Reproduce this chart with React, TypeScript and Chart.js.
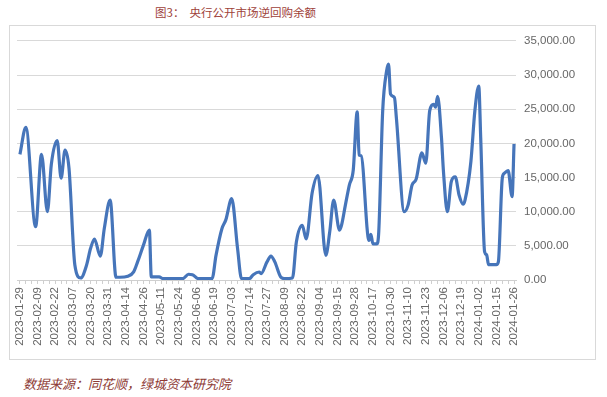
import React, { useEffect, useRef } from "react";
import { Chart, registerables } from "chart.js";

Chart.register(...registerables);

// Tick labels: one every 9 trading days
const tickDates = [
  "2023-01-29", "2023-02-09", "2023-02-22", "2023-03-07", "2023-03-20", "2023-03-31",
  "2023-04-14", "2023-04-26", "2023-05-11", "2023-05-24", "2023-06-06", "2023-06-19",
  "2023-07-03", "2023-07-14", "2023-07-27", "2023-08-09", "2023-08-22", "2023-09-04",
  "2023-09-15", "2023-09-28", "2023-10-17", "2023-10-30", "2023-11-10", "2023-11-23",
  "2023-12-06", "2023-12-19", "2024-01-02", "2024-01-15", "2024-01-26",
];

// Trading-day index (0 = 2023-01-29) of each read-off point
const dayIndex = [
  0, 3, 8, 11, 14, 16, 19, 21, 23, 25, 28, 31, 34, 36, 38, 41, 43, 46, 49, 51,
  55, 58, 60, 63, 66, 67, 71, 73, 83, 86, 88, 91, 98, 100, 103, 105, 108, 111, 113, 117,
  119, 122, 123, 126, 128, 130, 133, 135, 139, 141, 144, 146, 149, 152, 156, 158, 160, 163, 164, 166,
  168, 170, 172, 173, 174, 178, 179, 180, 182, 183, 185, 187, 188, 189, 191, 192, 196, 198, 200, 202,
  205, 207, 209, 211, 212, 213, 215, 216, 218, 220, 222, 224, 226, 227, 230, 232, 234, 235, 237, 238,
  239, 243, 244, 246, 247, 249, 251, 252,
];

// Reverse repo outstanding balance (亿元)
const balance = [
  18400, 22350, 7800, 18400, 10000, 16900, 20400, 14900, 19000, 16400, 2200, 300, 2200, 4600, 6000, 3500, 7500, 11700, 400, 400,
  550, 1200, 2650, 5100, 7300, 450, 450, 200, 200, 840, 780, 200, 200, 3600, 7500, 8800, 11900, 4600, 200, 200,
  780, 1170, 930, 2650, 3500, 2650, 440, 200, 300, 5600, 8000, 6000, 12700, 15300, 3600, 7050, 11700, 7300, 8000, 11000,
  13900, 16100, 24600, 18300, 18200, 5800, 6700, 5300, 5300, 7050, 24700, 30600, 31600, 27200, 26700, 23700, 10000, 11000, 13900, 14700,
  18600, 17100, 24800, 25700, 25300, 26900, 20800, 15900, 10000, 14400, 15100, 12400, 11100, 11700, 17350, 24700, 28400, 20800, 4100, 3700,
  2250, 2250, 2650, 14900, 15600, 16000, 12200, 19900,
];

const yTicks = [0, 5000, 10000, 15000, 20000, 25000, 30000, 35000];

export default function App() {
  const ref = useRef<HTMLCanvasElement | null>(null);

  useEffect(() => {
    if (!ref.current) return;
    const points = dayIndex.map((d, i) => ({ x: d, y: balance[i] }));
    const chart = new Chart(ref.current, {
      type: "line",
      data: {
        datasets: [
          {
            data: points,
            borderColor: "#4675BA",
            borderWidth: 3.2,
            pointRadius: 0,
            cubicInterpolationMode: "monotone",
            fill: false,
          },
        ],
      },
      options: {
        animation: false,
        responsive: false,
        maintainAspectRatio: false,
        layout: { padding: { left: 7, top: 13, right: 0, bottom: 0 } },
        plugins: {
          legend: { display: false },
          tooltip: { enabled: false },
          title: { display: false },
        },
        scales: {
          x: {
            type: "linear",
            min: -1.5,
            max: 253,
            afterBuildTicks: (s: any) => {
              const t: any[] = [];
              for (let v = 0; v <= 252; v += 3) t.push({ value: v });
              s.ticks = t;
            },
            afterFit: (s: any) => {
              s.height = 78;
              s.paddingLeft = 0;
              s.paddingRight = 0;
            },
            ticks: {
              autoSkip: false,
              minRotation: 90,
              maxRotation: 90,
              padding: 3,
              color: "#666666",
              font: { family: "'Liberation Sans', Arial, sans-serif", size: 11.5 },
              callback: (v: any) => (Number(v) % 9 === 0 ? tickDates[Number(v) / 9] : ""),
            },
            grid: { drawOnChartArea: false, drawTicks: true, tickLength: 4, color: "#cfcfcf" },
            border: { color: "#cfcfcf" },
          },
          y: {
            position: "right",
            min: 0,
            max: 35000,
            afterBuildTicks: (s: any) => {
              s.ticks = yTicks.map((v) => ({ value: v }));
            },
            afterFit: (s: any) => {
              s.width = 78;
            },
            ticks: {
              padding: 8,
              color: "#666666",
              font: { family: "'Liberation Sans', Arial, sans-serif", size: 11.5 },
              callback: (v: any) =>
                Number(v).toLocaleString("en-US", { minimumFractionDigits: 2, maximumFractionDigits: 2 }),
            },
            grid: { color: "#d9d9d9", drawTicks: false },
            border: { display: false },
          },
        },
      },
    } as any);
    return () => chart.destroy();
  }, []);

  return (
    <div style={{ position: "absolute", left: 0, top: 0, width: 607, height: 397, background: "#fff" }}>
      <div
        style={{
          position: "absolute",
          left: 155,
          top: 4,
          fontFamily: "'Noto Sans CJK SC', sans-serif",
          fontSize: 11.5,
          color: "#9E4139",
          whiteSpace: "nowrap",
        }}
      >
        图3：&nbsp;&nbsp;央行公开市场逆回购余额
      </div>
      <div
        style={{
          position: "absolute",
          left: 9,
          top: 25,
          width: 585,
          height: 333,
          border: "1px solid #d9d9d9",
        }}
      />
      <canvas ref={ref} width={584} height={332} style={{ position: "absolute", left: 10, top: 26 }} />
      <div
        style={{
          position: "absolute",
          left: 23,
          top: 374,
          fontFamily: "'Noto Sans CJK SC', sans-serif",
          fontSize: 13,
          fontStyle: "italic",
          color: "#8E3B35",
          whiteSpace: "nowrap",
        }}
      >
        数据来源：同花顺，绿城资本研究院
      </div>
    </div>
  );
}
